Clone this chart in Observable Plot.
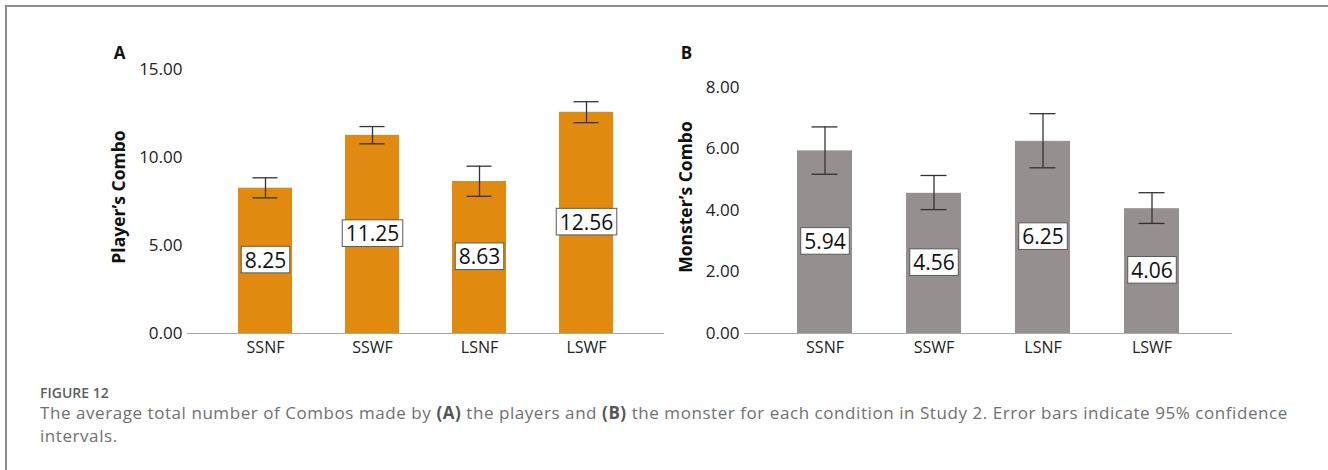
<!DOCTYPE html>
<html>
<head>
<meta charset="utf-8">
<script src="https://cdn.jsdelivr.net/npm/d3@7"></script>
<script src="https://cdn.jsdelivr.net/npm/@observablehq/plot@0.6"></script>
<style>
  html, body { margin: 0; padding: 0; background: #fff; }
  body { width: 1328px; height: 470px; position: relative; overflow: hidden; font-family: "Open Sans", sans-serif; }
  #frame { position: absolute; left: 5px; top: 5px; right: 0; bottom: 0; border-top: 2px solid #8e8e8e; border-left: 2px solid #8e8e8e; }
  #panelA, #panelB { position: absolute; top: 0; }
  #panelA { left: 0; }
  #panelB { left: 670px; }
  .fig-label { position: absolute; left: 40px; top: 385.5px; font-size: 14px; line-height: 14px; font-weight: 600; color: #5e5e5e; }
  .fig-caption { position: absolute; left: 40px; top: 400.5px; white-space: nowrap; font-size: 17px; line-height: 23px; letter-spacing: 0.56px; color: #707070; }
  .fig-caption b { color: #555; }
</style>
</head>
<body>
<div id="frame"></div>
<div id="panelA"></div>
<div id="panelB"></div>
<div class="fig-label">FIGURE 12</div>
<div class="fig-caption">The average total number of Combos made by <b>(A)</b> the players and <b>(B)</b> the monster for each condition in Study 2. Error bars indicate 95% confidence<br>intervals.</div>
<script>
// Conditions (x axis)
const conditions = ["SSNF", "SSWF", "LSNF", "LSWF"];

// Panel A: player's combos — means with 95% CI bounds
const playerMean = [8.25, 11.25, 8.63, 12.56];
const playerLow  = [7.70, 10.77, 7.79, 11.97];
const playerHigh = [8.84, 11.75, 9.50, 13.16];
const playerTicks = [0, 5, 10, 15];

// Panel B: monster's combos — means with 95% CI bounds
const monsterMean = [5.94, 4.56, 6.25, 4.06];
const monsterLow  = [5.18, 4.03, 5.39, 3.58];
const monsterHigh = [6.72, 5.14, 7.15, 4.58];
const monsterTicks = [0, 2, 4, 6, 8];

const LABEL_SIZE = 21;

function rows(means, lows, highs) {
  return conditions.map((c, i) => ({cond: c, mean: means[i], lo: lows[i], hi: highs[i]}));
}

// Draw a white box with a thin border behind each value label
// (runs once the SVG is in the document so getBBox has real sizes)
function boxLabels(svg) {
  const ns = "http://www.w3.org/2000/svg";
  const labels = Array.from(svg.querySelectorAll("text"))
    .filter(t => t.parentNode.getAttribute("font-size") == String(LABEL_SIZE));
  labels.forEach(t => {
    const b = t.getBBox();
    const cy = b.y + b.height / 2;
    const r = document.createElementNS(ns, "rect");
    r.setAttribute("x", b.x - 3.5);
    r.setAttribute("y", cy - 13.3);
    r.setAttribute("width", b.width + 7);
    r.setAttribute("height", 26.6);
    r.setAttribute("fill", "#fff");
    r.setAttribute("stroke", "#5a5a5a");
    r.setAttribute("stroke-width", 1);
    const tr = t.getAttribute("transform");
    if (tr) r.setAttribute("transform", tr);
    t.parentNode.insertBefore(r, t);
  });
}

function panel({data, letter, yLabel, yMax, ticks, fill, width, marginLeft, marginRight, letterDx}) {
  const height = 370, marginTop = 60, marginBottom = 37;
  const innerW = width - marginLeft - marginRight;
  return Plot.plot({
    width, height, marginLeft, marginRight, marginTop, marginBottom,
    style: {fontFamily: "Open Sans, sans-serif", background: "none", overflow: "visible", color: "#222"},
    x: {domain: conditions, paddingInner: 0.5, paddingOuter: 0.475, axis: null},
    y: {domain: [0, yMax], axis: null},
    marks: [
      Plot.barY(data, {x: "cond", y: "mean", fill}),
      // 95% CI whiskers and caps
      Plot.ruleX(data, {x: "cond", y1: "lo", y2: "hi", stroke: "#333", strokeWidth: 1.3}),
      Plot.tickY(data, {x: "cond", y: "hi", stroke: "#333", strokeWidth: 1.3, inset: 14.5}),
      Plot.tickY(data, {x: "cond", y: "lo", stroke: "#333", strokeWidth: 1.3, inset: 14.5}),
      // value labels at half bar height
      Plot.text(data, {x: "cond", y: d => d.mean / 2, text: d => d.mean.toFixed(2), fontSize: LABEL_SIZE, fill: "#111"}),
      // axes
      Plot.axisY({ticks, tickFormat: d3.format(".2f"), tickSize: 0, tickPadding: 5, fontSize: 17, fill: "#222", label: null}),
      Plot.axisX({tickSize: 0, tickPadding: 8, fontSize: 16, fill: "#222", label: null}),
      Plot.ruleY([0], {stroke: "#a9a9a9", strokeWidth: 1.2}),
      Plot.ruleX([null], {y1: 0, y2: yMax, dx: -innerW / 2, stroke: "#a9a9a9", strokeWidth: 1.2}),
      // axis title and panel letter
      Plot.text([yLabel], {text: d => d, frameAnchor: "left", rotate: -90, dx: letterDx - 0.5, textAnchor: "middle", lineAnchor: "middle", fontSize: 17.5, fontWeight: "bold", fill: "#111"}),
      Plot.text([letter], {text: d => d, frameAnchor: "top-left", dx: letterDx, dy: -6.5, textAnchor: "middle", lineAnchor: "middle", fontSize: 17, fontWeight: "bold", fill: "#111"})
    ]
  });
}

const a = panel({
  data: rows(playerMean, playerLow, playerHigh), letter: "A", yLabel: "Player’s Combo",
  yMax: 15.5, ticks: playerTicks, fill: "#e08b10",
  width: 670, marginLeft: 187, marginRight: 6, letterDx: -68
});
document.getElementById("panelA").appendChild(a);
boxLabels(a);

const b = panel({
  data: rows(monsterMean, monsterLow, monsterHigh), letter: "B", yLabel: "Monster’s Combo",
  yMax: 8.88, ticks: monsterTicks, fill: "#968f8f",
  width: 658, marginLeft: 74, marginRight: 96, letterDx: -58
});
document.getElementById("panelB").appendChild(b);
boxLabels(b);
</script>
</body>
</html>
